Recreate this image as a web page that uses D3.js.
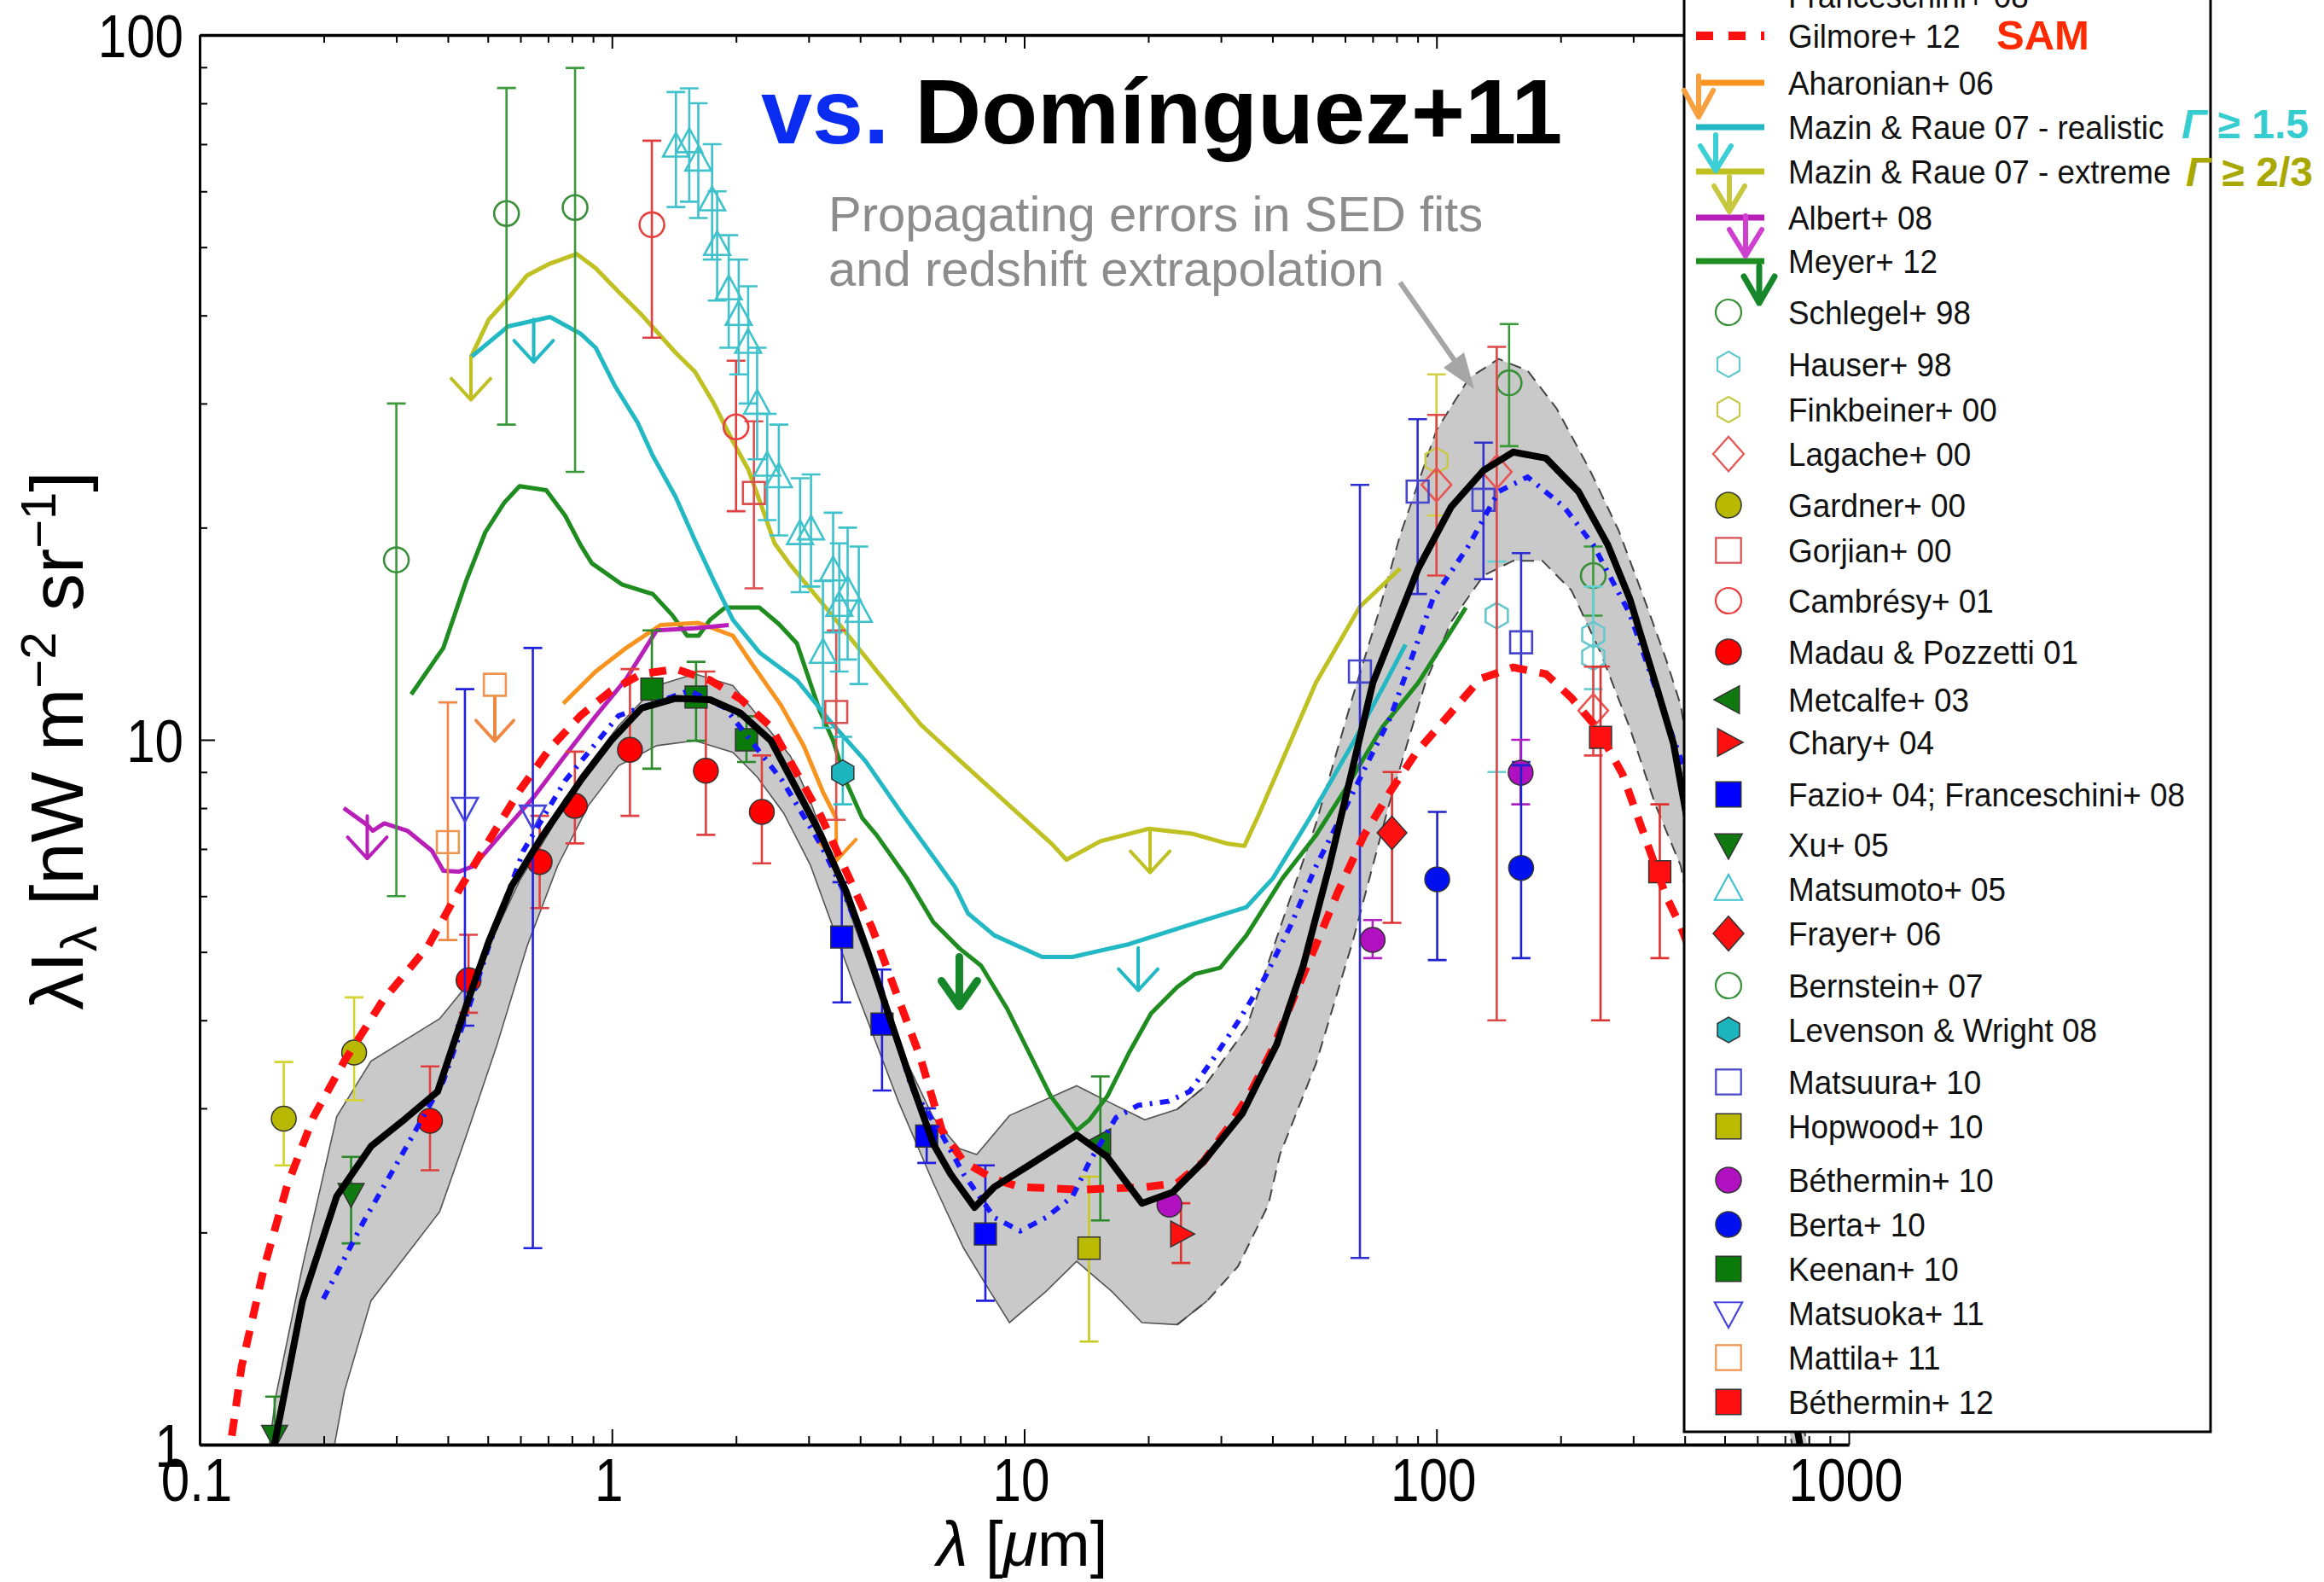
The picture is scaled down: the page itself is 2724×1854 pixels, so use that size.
<!DOCTYPE html>
<html>
<head>
<meta charset="utf-8">
<script src="https://cdn.jsdelivr.net/npm/d3@7"></script>
<style>
  body { margin: 0; background: #fff; }
  text { font-family: "Liberation Sans", Arial, sans-serif; }
</style>
</head>
<body>
<svg id="chart" width="2724" height="1854"></svg>
<script>
// ---- data (wavelength in micron, lambda I_lambda in nW m^-2 sr^-1) ----
const xTicks = [0.1, 1, 10, 100, 1000]
const yTicks = [1, 10, 100]

// Dominguez+11 model and its uncertainty band
const domX = [0.148, 0.1514, 0.1776, 0.215, 0.2604, 0.3155, 0.3778, 0.443, 0.503, 0.572, 0.679, 0.839, 0.995, 1.18, 1.428, 1.73, 2.05, 2.43, 2.78, 3.21, 3.70, 4.18, 4.72, 5.33, 6.02, 6.63, 7.58, 8.46, 10.27, 13.4, 15.9, 19.3, 22.9, 27.2, 33.8, 41.0, 47.5, 55.0, 62.1, 70.1, 90.3, 108.5, 130, 153.4, 184.2, 221, 260.4, 294.3, 339.5, 375.6, 766]
const domY = [0.9, 0.99, 1.6, 2.25, 2.65, 2.90, 3.17, 4.19, 5.18, 6.21, 7.31, 8.75, 9.97, 11.09, 11.45, 11.4, 10.91, 9.97, 8.6, 7.33, 6.09, 4.99, 4.03, 3.26, 2.67, 2.42, 2.17, 2.32, 2.49, 2.75, 2.56, 2.20, 2.28, 2.52, 2.95, 3.70, 4.78, 6.63, 8.94, 12.05, 17.5, 21.4, 24.1, 25.6, 25.1, 22.5, 18.9, 15.85, 12.05, 9.88, 0.98]
const bandUpX = [0.146, 0.153, 0.1776, 0.215, 0.2604, 0.382, 0.443, 0.503, 0.597, 0.708, 0.839, 1.038, 1.284, 1.589, 1.965, 2.25, 2.71, 3.05, 3.88, 4.95, 6.02, 6.96, 7.67, 9.21, 13.4, 15.9, 19.6, 23.5, 27.2, 34.6, 41.7, 51, 62.6, 72, 81.6, 100, 120, 141.4, 166.3, 195.7, 235, 276.7, 319, 360.5, 391, 803]
const bandUpY = [0.95, 1.17, 1.79, 2.92, 3.50, 4.02, 4.47, 5.10, 6.31, 7.43, 8.89, 10.47, 11.94, 12.4, 11.94, 10.85, 9.48, 8.1, 5.44, 3.70, 2.91, 2.63, 2.58, 2.93, 3.23, 3.07, 2.89, 2.99, 3.21, 3.9, 5.4, 7.6, 11.5, 15, 19.5, 27.5, 32.6, 34.7, 33.4, 29.5, 24.2, 19.8, 15.85, 13.0, 11.2, 0.95]
const bandLoX = [0.209, 0.2244, 0.2604, 0.3155, 0.382, 0.443, 0.5255, 0.623, 0.738, 0.876, 1.038, 1.284, 1.589, 1.965, 2.25, 2.61, 3.03, 3.88, 4.95, 6.02, 7.13, 8.26, 9.21, 11.3, 13.4, 16.3, 19.3, 23.5, 27.8, 33.0, 39.1, 41.7, 51, 62.6, 76.7, 94, 108.5, 130, 153.4, 180.5, 212.4, 250, 294.3, 339.5, 391, 741]
const bandLoY = [0.95, 1.19, 1.6, 1.85, 2.14, 2.74, 3.68, 5.10, 6.62, 8.06, 9.19, 9.81, 9.97, 9.6, 8.86, 7.87, 6.64, 4.46, 3.07, 2.35, 1.90, 1.65, 1.49, 1.65, 1.82, 1.65, 1.49, 1.48, 1.60, 1.79, 2.19, 2.58, 3.47, 5.17, 8.09, 12.05, 14.7, 17.1, 17.95, 17.95, 16.3, 13.3, 10.4, 8.09, 6.63, 0.95]

// other models
const franX = [0.1996, 0.2496, 0.3155, 0.390, 0.443, 0.503, 0.610, 0.770, 1.038, 1.539, 1.88, 2.59, 3.21, 3.61, 4.49, 5.33, 6.32, 7.13, 8.46, 9.78, 11.3, 13.1, 14.4, 16.7, 18.9, 22.4, 25.2, 28.5, 33.0, 38.2, 44.2, 51.1, 59.2, 68.4, 77.3, 98, 120, 141.4, 166.3, 203.9, 240, 294.3, 346, 391, 430]
const franY = [1.61, 2.07, 2.63, 3.28, 4.06, 5.10, 6.96, 8.75, 10.82, 11.74, 11.1, 8.75, 7.1, 6.18, 4.46, 3.21, 2.75, 2.42, 2.10, 2.01, 2.10, 2.25, 2.52, 2.91, 3.03, 3.07, 3.17, 3.50, 3.98, 4.58, 5.44, 6.63, 7.86, 9.33, 10.76, 15.85, 18.9, 22.5, 23.6, 21.4, 18.9, 15.1, 11.47, 9.4, 8.0]
const gilX = [0.112, 0.1186, 0.1264, 0.1436, 0.163, 0.189, 0.2244, 0.2777, 0.3584, 0.425, 0.503, 0.597, 0.708, 0.839, 0.995, 1.18, 1.428, 1.73, 2.05, 2.43, 3.21, 4.28, 5.59, 6.32, 7.13, 8.46, 9.78, 13.7, 19.8, 23.5, 27.2, 31.4, 35.5, 40.1, 45.2, 51.1, 57.7, 66.8, 77.3, 89.4, 104.2, 127.6, 153.4, 184.2, 212.4, 244.9, 282.5, 319, 360.5, 391, 450]
const gilY = [0.85, 0.99, 1.29, 1.79, 2.33, 2.92, 3.50, 4.26, 5.10, 6.11, 7.19, 8.47, 9.73, 10.82, 11.74, 12.4, 12.6, 12.15, 11.43, 10.43, 7.8, 5.4, 3.55, 2.79, 2.52, 2.38, 2.32, 2.30, 2.32, 2.35, 2.52, 2.83, 3.17, 3.65, 4.33, 5.13, 6.09, 7.33, 8.45, 9.60, 10.64, 12.2, 12.67, 12.4, 11.47, 10.4, 8.94, 7.33, 6.0, 5.44, 4.4]
const ahaX = [0.762, 0.913, 1.083, 1.312, 1.623, 1.965, 2.18, 2.57, 2.92, 3.25, 3.50]
const ahaY = [11.26, 12.5, 13.5, 14.55, 14.65, 14.05, 12.85, 11.2, 9.8, 8.43, 7.74]
const albX = [0.2236, 0.255, 0.263, 0.2805, 0.319, 0.366, 0.390, 0.425, 0.462, 0.548, 0.650, 0.770, 0.913, 1.083, 1.284, 1.589, 1.92]
const albY = [8.0, 7.57, 7.43, 7.61, 7.43, 6.96, 6.52, 6.50, 6.62, 7.43, 8.33, 9.50, 10.8, 12.2, 14.3, 14.4, 14.55]
const mrX = [0.455, 0.560, 0.708, 0.839, 0.913, 1.016, 1.154, 1.256, 1.428, 1.589, 1.767, 1.965, 2.28, 2.81, 3.44, 4.12, 5.04, 6.02, 6.80, 7.31, 8.46, 11.05, 13.1, 17.97, 24.6, 34.6, 40.1, 49, 62.6, 75.2, 84.1]
const mrY = [34.9, 38.6, 39.8, 37.7, 36.0, 31.8, 28.2, 25.3, 22.1, 19.2, 16.8, 14.8, 13.3, 12.15, 10.5, 9.33, 7.87, 6.82, 6.18, 5.67, 5.28, 4.92, 4.92, 5.13, 5.44, 5.79, 6.36, 7.7, 9.88, 12.05, 13.65]
const meX = [0.455, 0.503, 0.560, 0.623, 0.708, 0.822, 0.913, 1.038, 1.18, 1.428, 1.589, 1.767, 1.965, 2.14, 2.33, 2.48, 2.71, 3.44, 4.35, 5.62, 7.0, 9.03, 11.66, 12.66, 15.3, 20.1, 25.5, 31.2, 34.2, 37.2, 43.1, 51, 65.2, 81.6]
const meY = [34.9, 39.5, 42.3, 45.6, 47.4, 48.9, 46.7, 43.2, 40.1, 35.4, 33.3, 30.0, 26.5, 24.2, 21.1, 19.0, 17.7, 14.96, 12.6, 10.5, 9.33, 8.15, 7.12, 6.76, 7.18, 7.48, 7.36, 7.12, 7.07, 7.87, 9.60, 12.05, 15.45, 17.5]
const meyX = [0.326, 0.390, 0.443, 0.493, 0.548, 0.597, 0.693, 0.770, 0.839, 0.894, 1.06, 1.256, 1.398, 1.522, 1.623, 1.73, 1.88, 2.28, 2.54, 2.81, 3.19, 3.44, 3.70, 4.05, 4.38, 5.2, 6.02, 6.96, 7.86, 9.1, 10.27, 11.6, 13.4, 14.4, 15.9, 17.97, 20.3, 23.5, 25.9, 29.9, 34.6, 42.3, 51.1, 60.1, 73.7, 90.3, 117.8]
const meyY = [11.6, 13.5, 16.8, 19.7, 21.7, 22.9, 22.6, 20.8, 18.9, 17.8, 16.6, 16.1, 15.05, 14.05, 14.05, 14.8, 15.4, 15.4, 14.6, 13.7, 11.0, 9.98, 8.71, 7.74, 7.33, 6.36, 5.51, 5.06, 4.78, 4.15, 3.60, 3.12, 2.79, 2.89, 3.12, 3.60, 4.09, 4.46, 4.65, 4.75, 5.28, 6.36, 7.33, 8.51, 10.4, 12.05, 15.4]

// upper-limit arrows drawn on the model curves: x, y where the arrow starts
const limitX = [0.455, 0.646, 18.9, 20.2, 3.50, 0.255]
const limitY = [34.9, 39.5, 5.07, 7.45, 7.74, 7.8]
const limitOf = ['me', 'mr', 'mr', 'me', 'aha', 'alb']

// measurements
const schlegelX = [150, 240], schlegelY = [32.1, 17.1], schlegelLo = [26.1, 15.0], schlegelHi = [38.9, 18.8]
const hauserX = [140, 240, 240], hauserY = [15.0, 14.1, 13.1], hauserLo = [9.0, 11.8, null], hauserHi = [17.9, 16.5, null]
const finkX = [100], finkY = [24.9], finkLo = [20.8], finkHi = [33.0]
const lagacheX = [100, 140, 240], lagacheY = [23.0, 24.0, 11.0], lagacheLo = [17.1, 4.0, 9.5], lagacheHi = [28.9, 36.1, 12.7]
const gardnerX = [0.16, 0.237], gardnerY = [2.90, 3.60], gardnerLo = [2.49, 3.08], gardnerHi = [3.49, 4.31]
const gorjianX = [2.21, 3.50], gorjianY = [22.4, 10.95], gorjianLo = [16.4, 7.7], gorjianHi = [28.3, 14.3]
const cambresyX = [1.25, 2.0], cambresyY = [53.8, 27.8], cambresyLo = [37.2, 21.1], cambresyHi = [70.8, 34.5]
const madauX = [0.362, 0.449, 0.668, 0.813, 1.106, 1.69, 2.31], madauY = [2.88, 4.56, 6.71, 8.06, 9.68, 9.04, 7.90]
const madauLo = [2.45, 4.10, 5.77, 7.13, 7.80, 7.33, 6.68], madauHi = [3.44, 5.29, 7.80, 9.62, 12.6, 12.5, 9.5]
const metcalfeX = [15.3], metcalfeY = [2.69], metcalfeLo = [2.08], metcalfeHi = [3.33]
const charyX = [24.0], charyY = [1.99], charyLo = [1.81], charyHi = [2.20]
const fazioX = [3.61, 4.52, 5.80, 8.05], fazioY = [5.25, 3.95, 2.74, 1.99], fazioLo = [4.24, 3.18, 2.51, 1.60], fazioHi = [6.28, 4.72, 3.0, 2.49]
const xuX = [0.152, 0.233], xuY = [1.03, 2.27], xuLo = [0.9, 1.93], xuHi = [1.17, 2.56]
const matsumotoX = [1.43, 1.54, 1.62, 1.75, 1.80, 1.92, 2.03, 2.14, 2.25, 2.38, 2.54, 2.86, 3.04, 3.25, 3.44, 3.56, 3.73, 3.97]
const matsumotoY = [69.5, 70.5, 66.4, 58.3, 50.4, 43.6, 40.1, 36.6, 30.0, 24.5, 23.6, 19.6, 19.9, 13.3, 17.4, 15.5, 16.3, 15.2]
const matsumotoLo = [57, 58, 55, 48, 42, 36, 33, 30, 25, 20.5, 19.5, 16.2, 16.5, 10.4, 14.2, 12.5, 13.0, 12.0]
const matsumotoHi = [83, 84, 80, 70, 60, 52, 48, 44, 36, 29, 28, 23.5, 23.8, 16.8, 21, 19, 20, 18.8]
const frayerX = [78], frayerY = [7.38], frayerLo = [5.5], frayerHi = [9.0]
const bernsteinX = [0.30, 0.555, 0.814], bernsteinY = [18.0, 55.8, 56.9], bernsteinLo = [6.0, 28.0, 24.0], bernsteinHi = [30.0, 84.1, 89.8]
const levensonX = [3.63], levensonY = [8.98], levensonLo = [8.1], levensonHi = [10.1]
const matsuuraX = [65.2, 90, 130, 160.4], matsuuraY = [12.5, 22.5, 21.9, 13.75], matsuuraLo = [1.84, 16.1, 16.9, 9.3], matsuuraHi = [23.0, 28.5, 26.4, 18.4]
const hopwoodX = [14.36], hopwoodY = [1.90], hopwoodLo = [1.40], hopwoodHi = [2.40]
const beth10X = [22.5, 70, 160], beth10Y = [2.19, 5.2, 8.98], beth10Lo = [null, 4.9, 8.1], beth10Hi = [null, 5.55, 10.0]
const bertaX = [100.4, 160.4], bertaY = [6.34, 6.58], bertaLo = [4.87, 4.9], bertaHi = [7.9, 9.2]
const keenanX = [1.25, 1.60, 2.12], keenanY = [11.8, 11.5, 10.0], keenanLo = [9.1, 9.97, 9.3], keenanHi = [14.3, 12.9, 10.8]
const matsuokaX = [0.44, 0.643], matsuokaY = [8.0, 7.8], matsuokaLo = [3.93, 1.90], matsuokaHi = [11.8, 13.5]
const mattilaX = [0.40, 0.52], mattilaY = [7.16, 11.97], mattilaLo = [5.2, null], mattilaHi = [11.3, null]
const beth12X = [250, 348], beth12Y = [10.08, 6.5], beth12Lo = [4.0, 4.9], beth12Hi = [12.7, 8.1]

// Meyer+12 limit (hand drawn arrow)
const meyerLimitX = 6.96, meyerLimitY = 4.92

const legendNames = ['Franceschini+ 08', 'Gilmore+ 12', 'Aharonian+ 06', 'Mazin & Raue 07 - realistic', 'Mazin & Raue 07 - extreme', 'Albert+ 08', 'Meyer+ 12',
  'Schlegel+ 98', 'Hauser+ 98', 'Finkbeiner+ 00', 'Lagache+  00', 'Gardner+ 00', 'Gorjian+ 00', 'Cambrésy+ 01', 'Madau & Pozzetti 01', 'Metcalfe+ 03', 'Chary+ 04',
  'Fazio+ 04; Franceschini+ 08', 'Xu+ 05', 'Matsumoto+ 05', 'Frayer+ 06', 'Bernstein+ 07', 'Levenson & Wright 08', 'Matsuura+ 10', 'Hopwood+ 10',
  'Béthermin+ 10', 'Berta+ 10', 'Keenan+  10', 'Matsuoka+ 11', 'Mattila+ 11', 'Béthermin+ 12']

// ---- styles ----
const lineStyle = {
  fran: { color: '#1818ff', width: 6, dash: '11 9 3 9' },
  gil: { color: '#ff1010', width: 9, dash: '20 15' },
  aha: { color: '#f7931e', width: 5 },
  mr: { color: '#22b8c4', width: 5 },
  me: { color: '#bfc021', width: 5 },
  alb: { color: '#b81eb8', width: 5 },
  mey: { color: '#1e8c1e', width: 5 }
}
const points = [
  { k: 'schlegel', shape: 'circle', open: '#3a8f3a', err: '#3a9a3a', xs: schlegelX, ys: schlegelY, lo: schlegelLo, hi: schlegelHi },
  { k: 'hauser', shape: 'hexagon', open: '#66c8cc', err: '#66d0d4', xs: hauserX, ys: hauserY, lo: hauserLo, hi: hauserHi },
  { k: 'fink', shape: 'hexagon', open: '#c8c84a', err: '#d0d040', xs: finkX, ys: finkY, lo: finkLo, hi: finkHi },
  { k: 'lagache', shape: 'diamond', open: '#e85555', err: '#e04848', xs: lagacheX, ys: lagacheY, lo: lagacheLo, hi: lagacheHi },
  { k: 'gardner', shape: 'circle', fill: '#b8b800', err: '#d4d430', xs: gardnerX, ys: gardnerY, lo: gardnerLo, hi: gardnerHi },
  { k: 'gorjian', shape: 'square', open: '#d85050', err: '#e05050', xs: gorjianX, ys: gorjianY, lo: gorjianLo, hi: gorjianHi },
  { k: 'cambresy', shape: 'circle', open: '#e84040', err: '#e04040', xs: cambresyX, ys: cambresyY, lo: cambresyLo, hi: cambresyHi },
  { k: 'madau', shape: 'circle', fill: '#ff0000', err: '#e04040', xs: madauX, ys: madauY, lo: madauLo, hi: madauHi },
  { k: 'metcalfe', shape: 'triLeft', fill: '#107a10', err: '#2a8a2a', xs: metcalfeX, ys: metcalfeY, lo: metcalfeLo, hi: metcalfeHi },
  { k: 'chary', shape: 'triRight', fill: '#ff1010', err: '#e03030', xs: charyX, ys: charyY, lo: charyLo, hi: charyHi },
  { k: 'fazio', shape: 'square', fill: '#0000ff', err: '#2020dd', xs: fazioX, ys: fazioY, lo: fazioLo, hi: fazioHi },
  { k: 'xu', shape: 'triDown', fill: '#107a10', err: '#2a8a2a', xs: xuX, ys: xuY, lo: xuLo, hi: xuHi },
  { k: 'matsumoto', shape: 'triUp', open: '#40c2cc', err: '#40c2cc', xs: matsumotoX, ys: matsumotoY, lo: matsumotoLo, hi: matsumotoHi },
  { k: 'frayer', shape: 'diamond', fill: '#ff1010', err: '#e03030', xs: frayerX, ys: frayerY, lo: frayerLo, hi: frayerHi },
  { k: 'bernstein', shape: 'circle', open: '#3a8f3a', err: '#3a9a3a', xs: bernsteinX, ys: bernsteinY, lo: bernsteinLo, hi: bernsteinHi },
  { k: 'levenson', shape: 'hexagon', fill: '#1cb5bd', err: '#30c0c8', xs: levensonX, ys: levensonY, lo: levensonLo, hi: levensonHi },
  { k: 'matsuura', shape: 'square', open: '#4646cc', err: '#3030d0', xs: matsuuraX, ys: matsuuraY, lo: matsuuraLo, hi: matsuuraHi },
  { k: 'hopwood', shape: 'square', fill: '#baba00', err: '#c8c820', xs: hopwoodX, ys: hopwoodY, lo: hopwoodLo, hi: hopwoodHi },
  { k: 'beth10', shape: 'circle', fill: '#b010c0', err: '#b020c0', xs: beth10X, ys: beth10Y, lo: beth10Lo, hi: beth10Hi },
  { k: 'berta', shape: 'circle', fill: '#0010ee', err: '#2020cc', xs: bertaX, ys: bertaY, lo: bertaLo, hi: bertaHi },
  { k: 'keenan', shape: 'square', fill: '#0a7a0a', err: '#2a8a2a', xs: keenanX, ys: keenanY, lo: keenanLo, hi: keenanHi },
  { k: 'matsuoka', shape: 'triDown', open: '#4444dd', err: '#2020dd', xs: matsuokaX, ys: matsuokaY, lo: matsuokaLo, hi: matsuokaHi },
  { k: 'mattila', shape: 'square', open: '#ee9550', err: '#ee8844', xs: mattilaX, ys: mattilaY, lo: mattilaLo, hi: mattilaHi },
  { k: 'beth12', shape: 'square', fill: '#ff1010', err: '#e03030', xs: beth12X, ys: beth12Y, lo: beth12Lo, hi: beth12Hi }
]
const legendPointOrder = ['schlegel', 'hauser', 'fink', 'lagache', 'gardner', 'gorjian', 'cambresy', 'madau', 'metcalfe', 'chary', 'fazio', 'xu', 'matsumoto', 'frayer', 'bernstein', 'levenson', 'matsuura', 'hopwood', 'beth10', 'berta', 'keenan', 'matsuoka', 'mattila', 'beth12']

// ---- chart ----
const svg = d3.select('#chart')
const x = d3.scaleLog().domain([0.1, 1000]).range([234, 2167])
const y = d3.scaleLog().domain([1, 100]).range([1693, 41])

svg.append('defs').append('clipPath').attr('id', 'plotclip')
  .append('rect').attr('x', 234).attr('y', 41).attr('width', 1933).attr('height', 1652)
const inner = svg.append('g').attr('clip-path', 'url(#plotclip)')

const line = d3.line().x(d => x(d[0])).y(d => y(d[1]))

function shapePath(shape, r) {
  switch (shape) {
    case 'circle': return d3.symbol(d3.symbolCircle, Math.PI * r * r)()
    case 'square': { const s = r * 0.92; return `M${-s},${-s}H${s}V${s}H${-s}Z` }
    case 'diamond': return `M0,${-r * 1.35}L${r * 1.2},0L0,${r * 1.35}L${-r * 1.2},0Z`
    case 'triUp': return `M0,${-r}L${r * 0.95},${r * 0.75}L${-r * 0.95},${r * 0.75}Z`
    case 'triDown': return `M0,${r}L${r * 0.95},${-r * 0.75}L${-r * 0.95},${-r * 0.75}Z`
    case 'triLeft': return `M${-r},0L${r * 0.75},${-r * 0.95}L${r * 0.75},${r * 0.95}Z`
    case 'triRight': return `M${r},0L${-r * 0.75},${-r * 0.95}L${-r * 0.75},${r * 0.95}Z`
    case 'hexagon': return d3.range(6).map(i => {
      const a = -Math.PI / 2 + i * Math.PI / 3
      return (i ? 'L' : 'M') + (r * Math.cos(a)).toFixed(2) + ',' + (r * Math.sin(a)).toFixed(2)
    }).join('') + 'Z'
  }
}

function arrow(g, px, py, len, half, back, color, width) {
  g.append('path')
    .attr('d', `M${px},${py}V${py + len}M${px - half},${py + len - back}L${px},${py + len}L${px + half},${py + len - back}`)
    .attr('fill', 'none').attr('stroke', color).attr('stroke-width', width)
    .attr('stroke-linecap', 'round').attr('stroke-linejoin', 'round')
}

// uncertainty band
const bandPts = d3.zip(bandUpX, bandUpY).concat(d3.zip(bandLoX, bandLoY).reverse())
inner.append('path').attr('d', line(bandPts) + 'Z').attr('fill', '#c9c9c9')
const splitAt = 27.5
;[[bandUpX, bandUpY], [bandLoX, bandLoY]].forEach(([xs, ys]) => {
  const pts = d3.zip(xs, ys)
  inner.append('path').attr('d', line(pts.filter(d => d[0] <= splitAt + 0.4)))
    .attr('fill', 'none').attr('stroke', '#555').attr('stroke-width', 1.6)
  inner.append('path').attr('d', line(pts.filter(d => d[0] >= splitAt - 4)))
    .attr('fill', 'none').attr('stroke', '#444').attr('stroke-width', 2).attr('stroke-dasharray', '14 9')
})

// model curves
const modelData = { mey: [meyX, meyY], me: [meX, meY], mr: [mrX, mrY], aha: [ahaX, ahaY], alb: [albX, albY] }
Object.entries(modelData).forEach(([k, [xs, ys]]) => {
  const s = lineStyle[k]
  inner.append('path').attr('d', line(d3.zip(xs, ys)))
    .attr('fill', 'none').attr('stroke', s.color).attr('stroke-width', s.width).attr('stroke-linejoin', 'round')
})
limitX.forEach((lx, i) => {
  arrow(inner, x(lx), y(limitY[i]), 50, 23, 25, lineStyle[limitOf[i]].color, 4)
})
arrow(inner, x(mattilaX[1]), y(mattilaY[1]) + 14, 52, 22, 24, '#ee8844', 4)
arrow(inner, x(meyerLimitX), y(meyerLimitY), 58, 21, 30, '#15872a', 9)

// data points
points.forEach(p => {
  const g = inner.append('g')
  p.xs.forEach((xv, i) => {
    const px = x(xv), py = y(p.ys[i])
    if (p.lo[i] != null) {
      const y1 = y(p.hi[i]), y2 = y(p.lo[i])
      g.append('path').attr('d', `M${px},${y1}V${y2}M${px - 11},${y1}H${px + 11}M${px - 11},${y2}H${px + 11}`)
        .attr('stroke', p.err).attr('stroke-width', 2.6).attr('fill', 'none')
    }
  })
  p.xs.forEach((xv, i) => {
    const r = p.shape === 'square' ? 14 : p.shape.startsWith('tri') ? 16 : p.shape === 'hexagon' ? 15 : 14.5
    g.append('path').attr('d', shapePath(p.shape, r))
      .attr('transform', `translate(${x(xv)},${y(p.ys[i])})`)
      .attr('fill', p.fill || 'none')
      .attr('stroke', p.fill ? '#333' : p.open)
      .attr('stroke-width', p.fill ? 1.5 : 2.6)
  })
})

// Gilmore, Franceschini and Dominguez on top
inner.append('path').attr('d', line(d3.zip(gilX, gilY)))
  .attr('fill', 'none').attr('stroke', lineStyle.gil.color).attr('stroke-width', lineStyle.gil.width).attr('stroke-dasharray', lineStyle.gil.dash)
inner.append('path').attr('d', line(d3.zip(franX, franY)))
  .attr('fill', 'none').attr('stroke', lineStyle.fran.color).attr('stroke-width', lineStyle.fran.width).attr('stroke-dasharray', lineStyle.fran.dash)
inner.append('path').attr('d', line(d3.zip(domX, domY)))
  .attr('fill', 'none').attr('stroke', '#000').attr('stroke-width', 8).attr('stroke-linejoin', 'round')

// axes
const minorX = x.ticks().filter(v => !xTicks.includes(v))
const minorY = y.ticks().filter(v => !yTicks.includes(v))
function styleAxis(g) {
  g.select('.domain').attr('stroke', '#000').attr('stroke-width', 3.5)
  g.selectAll('.tick line').attr('stroke', '#000').attr('stroke-width', 2)
}
svg.append('g').attr('transform', 'translate(0,1693)')
  .call(d3.axisBottom(x).tickValues(minorX).tickSize(-10).tickSizeOuter(0).tickFormat(''))
  .call(styleAxis)
svg.append('g').attr('transform', 'translate(0,1693)')
  .call(d3.axisBottom(x).tickValues(xTicks).tickSize(-18).tickSizeOuter(0).tickPadding(16).tickFormat(d3.format('~g')))
  .call(styleAxis)
  .call(g => g.selectAll('text').attr('font-size', 70).attr('fill', '#000').attr('font-family', '"Liberation Sans", Arial')
    .attr('transform', 'translate(-4,0) scale(0.86,1)'))
svg.append('g').attr('transform', 'translate(0,41)')
  .call(d3.axisTop(x).tickValues(minorX).tickSize(-9).tickSizeOuter(0).tickFormat(''))
  .call(styleAxis)
  .call(g => g.select('.domain').attr('stroke-width', 3))
svg.append('g').attr('transform', 'translate(0,41)')
  .call(d3.axisTop(x).tickValues(xTicks).tickSize(-16).tickSizeOuter(0).tickFormat(''))
  .call(styleAxis)
svg.append('g').attr('transform', 'translate(234,0)')
  .call(d3.axisLeft(y).tickValues(minorY).tickSize(-9).tickSizeOuter(0).tickFormat(''))
  .call(styleAxis)
  .call(g => g.select('.domain').attr('stroke-width', 3))
svg.append('g').attr('transform', 'translate(234,0)')
  .call(d3.axisLeft(y).tickValues(yTicks).tickSize(-18).tickSizeOuter(0).tickPadding(22).tickFormat(d3.format('~g')))
  .call(styleAxis)
  .call(g => g.select('.domain').attr('stroke-width', 3))
  .call(g => g.selectAll('text').attr('font-size', 70).attr('fill', '#000').attr('dy', '0.36em')
    .attr('font-family', '"Liberation Sans", Arial').attr('transform', 'scale(0.86,1)'))

// axis titles
const xt = svg.append('text').attr('x', 1098).attr('y', 1835).attr('font-size', 74).attr('fill', '#000')
xt.append('tspan').attr('font-style', 'italic').text('λ')
xt.append('tspan').text(' [')
xt.append('tspan').attr('font-style', 'italic').text('μ')
xt.append('tspan').text('m]')

const yt = svg.append('text').attr('transform', 'translate(97,868) rotate(-90)')
  .attr('text-anchor', 'middle').attr('font-size', 88).attr('fill', '#000')
yt.append('tspan').text('λI')
yt.append('tspan').attr('font-size', 60).attr('dy', 16).text('λ')
yt.append('tspan').attr('dy', -16).text(' [nW m')
yt.append('tspan').attr('font-size', 58).attr('dy', -32).text('−2')
yt.append('tspan').attr('dy', 32).text(' sr')
yt.append('tspan').attr('font-size', 58).attr('dy', -32).text('−1')
yt.append('tspan').attr('dy', 32).text(']')

// title and annotation
const title = svg.append('text').attr('x', 892).attr('y', 168).attr('font-size', 108).attr('font-weight', 'bold')
title.append('tspan').attr('fill', '#0a2cf0').text('vs.')
title.append('tspan').attr('fill', '#000').text(' Domínguez+11')

svg.append('text').attr('x', 971).attr('y', 271).attr('font-size', 58).attr('fill', '#8c8c8c').text('Propagating errors in SED fits')
svg.append('text').attr('x', 971).attr('y', 335).attr('font-size', 58).attr('fill', '#8c8c8c').text('and redshift extrapolation')
svg.append('path').attr('d', 'M1641,331L1706,424').attr('stroke', '#a6a6a6').attr('stroke-width', 6).attr('fill', 'none')
svg.append('path').attr('d', 'M1728,456L1692,431L1716,413Z').attr('fill', '#a6a6a6')

// legend (row centres follow the reference layout)
const legendRowY = [-5, 42, 97, 149, 201, 255, 306, 366, 427, 480, 532, 592, 645, 704, 764, 820, 870, 931, 990, 1042, 1094, 1155, 1207, 1268, 1320, 1383, 1435, 1487, 1539, 1591, 1643]
const lg = svg.append('g')
lg.append('rect').attr('x', 1974).attr('y', -20).attr('width', 617).attr('height', 1698)
  .attr('fill', '#fff').attr('stroke', '#000').attr('stroke-width', 3)
legendNames.forEach((name, i) => {
  lg.append('text').attr('transform', `translate(2096,${legendRowY[i] + 14}) scale(0.97,1)`)
    .attr('font-size', 38).attr('fill', '#111').text(name)
})
;['fran', 'gil', 'aha', 'mr', 'me', 'alb', 'mey'].forEach((k, i) => {
  const s = lineStyle[k]
  lg.append('path').attr('d', `M1988,${legendRowY[i]}H2068`).attr('stroke', s.color)
    .attr('stroke-width', k === 'gil' ? 10 : 7).attr('stroke-dasharray', k === 'gil' ? '20 18' : (s.dash || null))
})
legendPointOrder.forEach((k, j) => {
  const p = points.find(d => d.k === k)
  const r = p.shape === 'square' ? 16 : p.shape.startsWith('tri') ? 17 : 15
  lg.append('path').attr('d', shapePath(p.shape, r))
    .attr('transform', `translate(2026,${legendRowY[j + 7]})`)
    .attr('fill', p.fill || '#fff').attr('stroke', p.fill ? '#333' : p.open).attr('stroke-width', p.fill ? 1.5 : 2.2)
})
// hand-drawn arrows in the legend
arrow(lg, 1991, 89, 48, 17, 31, '#f7a040', 6)
arrow(lg, 2011, 158, 42, 18, 29, '#3ccfd5', 6)
arrow(lg, 2027, 207, 41, 18, 30, '#c8c840', 6)
arrow(lg, 2046, 253, 47, 19, 31, '#d040d0', 6)
arrow(lg, 2062, 312, 43, 18, 31, '#15872a', 7)

svg.append('text').attr('x', 2340).attr('y', 58).attr('font-size', 49).attr('font-weight', 'bold').attr('fill', '#ff2a00').text('SAM')
const g1 = svg.append('text').attr('x', 2557).attr('y', 162).attr('font-size', 48).attr('font-weight', 'bold').attr('fill', '#35cdd0')
g1.append('tspan').attr('font-style', 'italic').text('Γ')
g1.append('tspan').text(' ≥ 1.5')
const g2 = svg.append('text').attr('x', 2562).attr('y', 218).attr('font-size', 48).attr('font-weight', 'bold').attr('fill', '#a8a800')
g2.append('tspan').attr('font-style', 'italic').text('Γ')
g2.append('tspan').text(' ≥ 2/3')
</script>
</body>
</html>
